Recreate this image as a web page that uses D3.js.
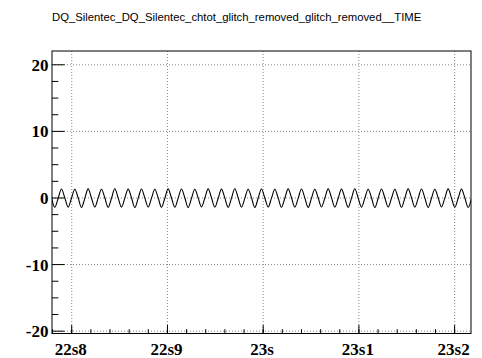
<!DOCTYPE html>
<html><head><meta charset="utf-8">
<script src="https://cdn.jsdelivr.net/npm/d3@7"></script>
<style>body{margin:0;background:#fff}svg{display:block}</style>
</head><body>
<svg id="c" width="482" height="358"></svg>
<script>
const title = "DQ_Silentec_DQ_Silentec_chtot_glitch_removed_glitch_removed__TIME";
const xTicks = [22.8, 22.9, 23.0, 23.1, 23.2];
const xTickLabels = ["22s8", "22s9", "23s", "23s1", "23s2"];
const yTicks = [-20, -10, 0, 10, 20];
const yTickLabels = ["-20", "-10", "0", "10", "20"];
const xDomain = [22.7794, 23.2171];
const yDomain = [-20.35, 22.07];
// sample times: start + index * step (seconds)
const tStart = 22.77885;
const tStep = 0.0034822;
// signal values (zero, trough, zero, peak per cycle)
const values = [
 0.05,-1.40,-0.05,1.35, 0.02,-1.38,-0.04,1.30, 0.04,-1.42,-0.06,1.36, 0.00,-1.35,-0.03,1.32,
 0.03,-1.41,-0.05,1.38, 0.01,-1.37,-0.02,1.33, 0.04,-1.43,-0.06,1.35, 0.02,-1.36,-0.04,1.31,
 0.05,-1.40,-0.05,1.37, 0.00,-1.38,-0.03,1.34, 0.03,-1.42,-0.06,1.30, 0.02,-1.35,-0.04,1.36,
 0.04,-1.39,-0.05,1.33, 0.01,-1.41,-0.02,1.38, 0.03,-1.37,-0.06,1.32, 0.05,-1.43,-0.04,1.35,
 0.00,-1.36,-0.03,1.31, 0.02,-1.40,-0.05,1.37, 0.04,-1.38,-0.06,1.34, 0.01,-1.42,-0.02,1.30,
 0.03,-1.35,-0.04,1.36, 0.05,-1.39,-0.05,1.33, 0.02,-1.41,-0.03,1.38, 0.00,-1.37,-0.06,1.32,
 0.04,-1.43,-0.04,1.35, 0.03,-1.36,-0.05,1.31, 0.01,-1.40,-0.02,1.37, 0.05,-1.38,-0.06,1.34,
 0.02,-1.42,-0.04,1.30, 0.04,-1.35,-0.03,1.36, 0.00,-1.39,-0.05,1.33, 0.03,-1.41,-0.04
];

const L = 52, T = 51, R = 471, B = 333.5;
const svg = d3.select("#c");
const x = d3.scaleLinear().domain(xDomain).range([L, R]);
const y = d3.scaleLinear().domain(yDomain).range([B, T]);

svg.append("text").attr("x", 52).attr("y", 21)
  .attr("font-family", "Liberation Sans, Arial, sans-serif").attr("font-size", "11.3px")
  .attr("fill", "#000").text(title);

// grid
const g = svg.append("g");
g.selectAll(".gx").data(xTicks).join("line")
  .attr("x1", d => x(d)).attr("x2", d => x(d)).attr("y1", T).attr("y2", B)
  .attr("stroke", "#888").attr("stroke-width", 1).attr("stroke-dasharray", "1,2");
g.selectAll(".gy").data(yTicks).join("line")
  .attr("x1", L).attr("x2", R).attr("y1", d => y(d)).attr("y2", d => y(d))
  .attr("stroke", "#888").attr("stroke-width", 1).attr("stroke-dasharray", "1,2");

// data line
svg.append("clipPath").attr("id", "clip").append("rect")
  .attr("x", L).attr("y", T).attr("width", R - L).attr("height", B - T);
const line = d3.line().x((d, i) => x(tStart + i * tStep)).y(d => y(d)).curve(d3.curveMonotoneX);
svg.append("path").datum(values).attr("d", line).attr("clip-path", "url(#clip)")
  .attr("fill", "none").attr("stroke", "#000").attr("stroke-width", 1.1);

// ticks
const yMinor = d3.range(-20, 22.1, 2.5).filter(v => !yTicks.includes(v));
const xMinor = d3.range(0, 22).map(i => 22.78 + i * 0.02).filter(v => v > xDomain[0] && v < xDomain[1]);
svg.selectAll(".ty").data(yTicks).join("line")
  .attr("x1", L).attr("x2", L + 12.5).attr("y1", d => y(d)).attr("y2", d => y(d))
  .attr("stroke", "#000").attr("stroke-width", 1);
svg.selectAll(".tym").data(yMinor).join("line")
  .attr("x1", L).attr("x2", L + 6.3).attr("y1", d => y(d)).attr("y2", d => y(d))
  .attr("stroke", "#000").attr("stroke-width", 1);
svg.selectAll(".tx").data(xTicks).join("line")
  .attr("x1", d => x(d)).attr("x2", d => x(d)).attr("y1", B).attr("y2", B - 8.5)
  .attr("stroke", "#000").attr("stroke-width", 1);
svg.selectAll(".txm").data(xMinor).join("line")
  .attr("x1", d => x(d)).attr("x2", d => x(d)).attr("y1", B).attr("y2", B - 4.3)
  .attr("stroke", "#000").attr("stroke-width", 1);

// frame
svg.append("rect").attr("x", L).attr("y", T).attr("width", R - L).attr("height", B - T)
  .attr("fill", "none").attr("stroke", "#000").attr("stroke-width", 1);

// labels
const font = "Liberation Serif, Times New Roman, serif";
svg.selectAll(".ly").data(yTicks).join("text")
  .attr("x", 48.5).attr("y", d => y(d)).attr("dy", "0.35em")
  .attr("text-anchor", "end").attr("font-family", font).attr("font-weight", "bold")
  .attr("font-size", "17px").attr("fill", "#000")
  .text((d, i) => yTickLabels[i]);
svg.selectAll(".lx").data(xTicks).join("text")
  .attr("x", d => x(d) - 1).attr("y", 355)
  .attr("text-anchor", "middle").attr("font-family", font).attr("font-weight", "bold")
  .attr("font-size", "17px").attr("fill", "#000")
  .text((d, i) => xTickLabels[i]);
</script>
</body></html>
